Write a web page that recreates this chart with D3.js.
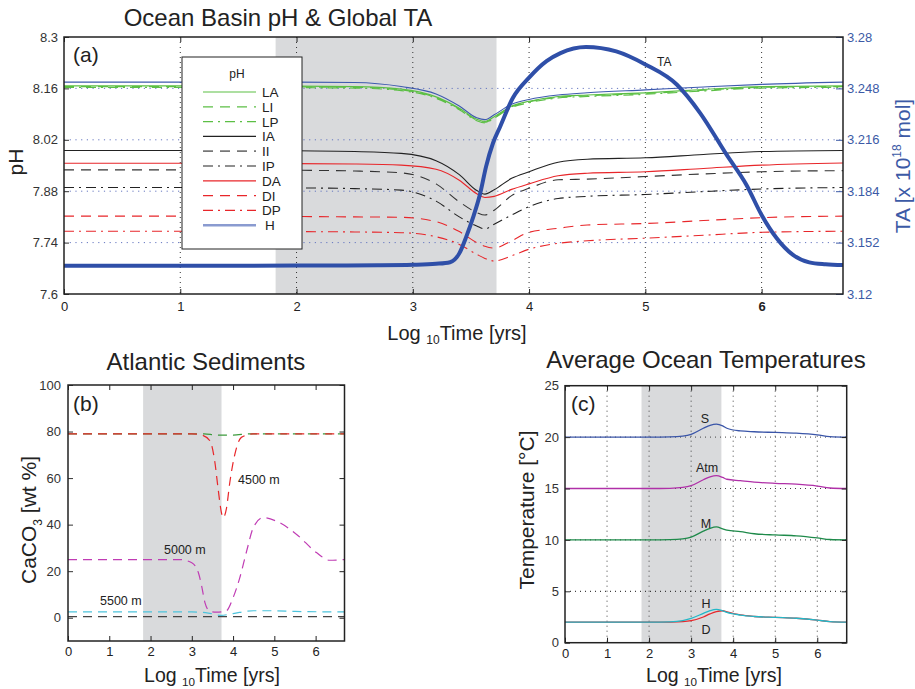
<!DOCTYPE html>
<html><head><meta charset="utf-8">
<script src="https://cdn.jsdelivr.net/npm/d3@7"></script>
<style>
body{margin:0;background:#fff;}
text{font-family:"Liberation Sans",Arial,Helvetica,sans-serif;}
</style></head>
<body><svg id="c" width="915" height="689"></svg>
<script>
// ---------------- DATA ----------------
// Panel (a): pH by basin, x = log10 time
const phX   = [0, 1, 2, 2.5, 2.9, 3.2, 3.4, 3.55, 3.62, 3.7, 3.85, 4.0, 4.25, 4.5, 5.0, 5.5, 6.0, 6.7];
const phLA  = [8.167,8.167,8.166,8.165,8.158,8.137,8.106,8.076,8.070,8.083,8.112,8.125,8.138,8.142,8.148,8.157,8.165,8.167];
const phLI  = [8.165,8.165,8.164,8.163,8.156,8.135,8.104,8.074,8.068,8.081,8.110,8.123,8.136,8.140,8.146,8.155,8.163,8.165];
const phLP  = [8.163,8.163,8.162,8.161,8.154,8.133,8.102,8.072,8.066,8.079,8.108,8.121,8.134,8.138,8.144,8.153,8.161,8.163];
const phIA  = [7.991,7.991,7.990,7.988,7.983,7.963,7.925,7.882,7.872,7.884,7.915,7.933,7.959,7.967,7.971,7.980,7.988,7.991];
const phII  = [7.938,7.938,7.937,7.935,7.930,7.900,7.851,7.822,7.815,7.828,7.868,7.888,7.911,7.913,7.920,7.927,7.933,7.936];
const phIP  = [7.890,7.890,7.889,7.887,7.883,7.853,7.810,7.785,7.777,7.790,7.815,7.838,7.860,7.866,7.871,7.879,7.886,7.890];
const phDA  = [7.956,7.956,7.955,7.954,7.951,7.940,7.910,7.873,7.863,7.866,7.885,7.900,7.922,7.929,7.933,7.942,7.951,7.957];
const phDI  = [7.812,7.812,7.811,7.810,7.809,7.797,7.770,7.740,7.730,7.725,7.745,7.768,7.779,7.788,7.792,7.800,7.808,7.812];
const phDP  = [7.771,7.771,7.770,7.769,7.767,7.756,7.735,7.708,7.697,7.690,7.704,7.722,7.738,7.745,7.752,7.760,7.768,7.771];
const phH   = [8.177,8.177,8.177,8.176,8.165,8.145,8.112,8.080,8.075,8.088,8.117,8.130,8.142,8.148,8.156,8.164,8.171,8.177];
// Global TA [x 1e18 mol]
const taX = [0,1,2,2.7,3.0,3.2,3.32,3.40,3.46,3.52,3.58,3.63,3.69,3.75,3.86,4.0,4.15,4.27,4.49,4.75,5.0,5.27,5.47,5.70,5.87,6.0,6.13,6.27,6.41,6.55,6.7];
const taV = [3.1376,3.1376,3.1377,3.1379,3.1382,3.1388,3.1398,3.1453,3.1557,3.168,3.1827,3.1993,3.214,3.224,3.242,3.2547,3.265,3.270,3.2738,3.271,3.2629,3.2504,3.2328,3.2066,3.1879,3.1692,3.1547,3.1443,3.1397,3.1385,3.138];
const legendNames = ["LA","LI","LP","IA","II","IP","DA","DI","DP","H"];
const phTicks  = [7.6,7.74,7.88,8.02,8.16,8.3];
const phTickLabels = ["7.6","7.74","7.88","8.02","8.16","8.3"];
const taTicks  = [3.12,3.152,3.184,3.216,3.248,3.28];
const taTickLabels = ["3.12","3.152","3.184","3.216","3.248","3.28"];
const xTicks = [0,1,2,3,4,5,6];
const shade = [1.82, 3.72];

// Panel (b): Atlantic sediments CaCO3 wt%
const sedGreenX = [0,3.3,3.6,4.0,4.4,6.7];
const sedGreenV = [79,79,78.5,78.5,79,79];
const sed4500X = [0,3.0,3.24,3.44,3.56,3.64,3.72,3.76,3.84,3.92,4.04,4.2,4.48,6.7];
const sed4500V = [79,79,78.5,76,66.7,55,45,43,47,58,70,77.5,79,79];
const sed5000X = [0,2.71,3.0,3.16,3.24,3.32,3.44,3.6,3.72,3.84,4.0,4.16,4.33,4.49,4.73,5.05,5.54,6.02,6.34,6.7];
const sed5000V = [25,25,23.6,19.3,13.5,6.4,2.7,2.4,2.5,3,8.6,17,28.7,38.7,43,41.5,35.8,28,24.7,25];
const sed5500X = [0,3.0,3.4,3.7,4.0,4.5,5.0,5.5,6.7];
const sed5500V = [2.5,2.5,2,1,1.8,3,3,2.7,2.5];
const sedBlackX = [0,6.7];
const sedBlackV = [0.5,0.5];
const sedTicks = [0,20,40,60,80,100];

// Panel (c): average ocean temperatures
const tX  = [0,1,2,2.5,2.8,3.0,3.29,3.45,3.6,3.75,3.85,4.17,4.5,5.0,5.5,6.0,6.3,6.7];
const tS  = [20,20,20,20.02,20.1,20.27,20.86,21.15,21.27,21.1,20.86,20.6,20.52,20.45,20.38,20.22,20.05,20.0];
const tAtm= [15,15,15,15.02,15.1,15.27,15.85,16.13,16.25,16.08,15.9,15.76,15.62,15.5,15.42,15.24,15.05,15.0];
const tM  = [10,10,10,10.02,10.1,10.27,10.85,11.13,11.26,11.08,10.95,10.8,10.6,10.48,10.4,10.2,10.04,10.0];
const tH  = [2,2,2,2.03,2.15,2.37,2.85,3.12,3.25,3.1,2.95,2.69,2.55,2.46,2.38,2.2,2.05,2.0];
const tD  = [2,2,2,2.01,2.05,2.14,2.5,2.8,3.02,3.11,3.0,2.7,2.55,2.46,2.38,2.2,2.05,2.0];
const tempTicks = [0,5,10,15,20,25];

// ---------------- DRAW ----------------
const svg = d3.select("#c");
const FONT = 13;
const zip = (xs, vs) => xs.map((x,i)=>[x, vs[i]]);

function frame(g, x0, y0, x1, y1){
  g.append("rect").attr("x",x0).attr("y",y0).attr("width",x1-x0).attr("height",y1-y0)
   .attr("fill","none").attr("stroke","#222").attr("stroke-width",1.5);
}
function xLabel(cx, y, size){
  const t = svg.append("text").attr("x",cx).attr("y",y).attr("text-anchor","middle")
    .attr("font-size",size).attr("fill","#222");
  t.append("tspan").text("Log ");
  t.append("tspan").attr("font-size",size*0.6).attr("dy",4).text("10");
  t.append("tspan").attr("dy",-4).text("Time [yrs]");
}
function styleAxis(g, color){
  g.select(".domain").remove();
  g.selectAll("line").attr("stroke",color);
  g.selectAll("text").attr("fill",color).attr("font-size",FONT)
   .attr("font-family","Liberation Sans, Arial, sans-serif");
}

// ======== Panel (a) ========
const ax = d3.scaleLinear().domain([0,6.7]).range([64,843]);
const ay = d3.scaleLinear().domain([7.6,8.3]).range([294,37]);
const ayR = d3.scaleLinear().domain([3.12,3.28]).range([294,37]);
const gA = svg.append("g");
gA.append("rect").attr("x",ax(shade[0])).attr("y",37).attr("width",ax(shade[1])-ax(shade[0])).attr("height",257).attr("fill","#d9dadc");
// grid
gA.selectAll(".vg").data(xTicks.slice(1)).enter().append("line")
  .attr("x1",d=>ax(d)).attr("x2",d=>ax(d)).attr("y1",37).attr("y2",294)
  .attr("stroke","#333").attr("stroke-width",1).attr("stroke-dasharray","1,4");
gA.selectAll(".hg").data(taTicks.slice(1,-1)).enter().append("line")
  .attr("x1",64).attr("x2",843).attr("y1",d=>ayR(d)).attr("y2",d=>ayR(d))
  .attr("stroke","#6677c0").attr("stroke-width",1).attr("stroke-dasharray","1.2,4.5");

const phStyles = {
  LA:{c:"#5cbf45",d:null,w:1.2}, LI:{c:"#5cbf45",d:"10,7",w:1.2}, LP:{c:"#5cbf45",d:"10,5,2,5",w:1.2},
  IA:{c:"#222",d:null,w:1.1}, II:{c:"#333",d:"10,7",w:1.1}, IP:{c:"#222",d:"10,5,2,5",w:1.1},
  DA:{c:"#e8262a",d:null,w:1.1}, DI:{c:"#e8262a",d:"10,7",w:1.1}, DP:{c:"#e8262a",d:"10,5,2,5",w:1.1},
  H:{c:"#3e5aae",d:null,w:1.1}
};
const phSeries = {LA:phLA,LI:phLI,LP:phLP,IA:phIA,II:phII,IP:phIP,DA:phDA,DI:phDI,DP:phDP,H:phH};
const lineA = d3.line().x(d=>ax(d[0])).y(d=>ay(d[1])).curve(d3.curveMonotoneX);
["IP","II","DP","DI","IA","DA","LP","LI","LA","H"].forEach(k=>{
  const s = phStyles[k];
  gA.append("path").attr("d",lineA(zip(phX,phSeries[k]))).attr("fill","none")
    .attr("stroke",s.c).attr("stroke-width",s.w).attr("stroke-dasharray",s.d);
});
const lineTA = d3.line().x(d=>ax(d[0])).y(d=>ayR(d[1])).curve(d3.curveMonotoneX);
gA.append("path").attr("d",lineTA(zip(taX,taV))).attr("fill","none")
  .attr("stroke","#2f4fa8").attr("stroke-width",4);
gA.append("text").attr("x",ax(5.1)).attr("y",ayR(3.262)).attr("font-size",12).attr("fill","#222").text("TA");

// legend
const lg = gA.append("g");
lg.append("rect").attr("x",182).attr("y",57).attr("width",120).attr("height",192)
  .attr("fill","#fff").attr("stroke","#222").attr("stroke-width",1);
lg.append("text").attr("x",237).attr("y",78).attr("text-anchor","middle").attr("font-size",12).attr("fill","#222").text("pH");
legendNames.forEach((k,i)=>{
  const y = 92 + i*14.8;
  const s = phStyles[k];
  lg.append("line").attr("x1",203).attr("x2",256).attr("y1",y).attr("y2",y)
    .attr("stroke", k==="H" ? "#8a9bd0" : (k==="II" ? "#777" : s.c))
    .attr("stroke-width", k==="H"?2.5:(k==="II"?1.8:1.2)).attr("stroke-dasharray",s.d);
  lg.append("text").attr("x", k==="H"?265:262).attr("y",y+5).attr("font-size",13.5).attr("fill","#222").text(k);
});

// axes (a)
const aB = gA.append("g").attr("transform","translate(0,294)")
  .call(d3.axisBottom(ax).tickValues(xTicks).tickFormat(d3.format("d")).tickSize(-5).tickPadding(8));
styleAxis(aB,"#222");
aB.selectAll("text").filter(d=>d===6).attr("font-weight","bold");
const aT = gA.append("g").attr("transform","translate(0,37)")
  .call(d3.axisTop(ax).tickValues(xTicks).tickFormat("").tickSize(-5));
styleAxis(aT,"#222");
const aL = gA.append("g").attr("transform","translate(64,0)")
  .call(d3.axisLeft(ay).tickValues(phTicks).tickFormat((d,i)=>phTickLabels[i]).tickSize(-5).tickPadding(6));
styleAxis(aL,"#333");
const aR = gA.append("g").attr("transform","translate(843,0)")
  .call(d3.axisRight(ayR).tickValues(taTicks).tickFormat((d,i)=>taTickLabels[i]).tickSize(-7).tickPadding(4));
styleAxis(aR,"#3c5aa6");
frame(gA,64,37,843,294);
gA.append("text").attr("x",73).attr("y",62).attr("font-size",21).attr("fill","#222").text("(a)");

svg.append("text").attr("x",278).attr("y",26).attr("text-anchor","middle").attr("font-size",24).attr("fill","#222").text("Ocean Basin pH & Global TA");
svg.append("text").attr("transform","translate(23,162) rotate(-90)").attr("text-anchor","middle").attr("font-size",21).attr("fill","#222").text("pH");
{
  const t = svg.append("text").attr("transform","translate(910,166) rotate(-90)").attr("text-anchor","middle")
    .attr("font-size",21).attr("fill","#3c5aa6");
  t.append("tspan").text("TA  [x 10");
  t.append("tspan").attr("font-size",12).attr("dy",-9).text("18");
  t.append("tspan").attr("dy",9).text(" mol]");
}
xLabel(457, 340, 20);

// ======== Panel (b) ========
const bx = d3.scaleLinear().domain([0,6.7]).range([68,344.5]);
const by = d3.scaleLinear().domain([-10,100]).range([641,385]);
const gB = svg.append("g");
gB.append("rect").attr("x",bx(shade[0])).attr("y",385).attr("width",bx(shade[1])-bx(shade[0])).attr("height",256).attr("fill","#d9dadc");
const lineB = d3.line().x(d=>bx(d[0])).y(d=>by(d[1])).curve(d3.curveMonotoneX);
[[sedBlackX,sedBlackV,"#444"],[sed5500X,sed5500V,"#4cc3dc"],[sed5000X,sed5000V,"#c03cb4"],
 [sedGreenX,sedGreenV,"#3c9a3c"],[sed4500X,sed4500V,"#e8262a"]].forEach(([xs,vs,c])=>{
  gB.append("path").attr("d",lineB(zip(xs,vs))).attr("fill","none").attr("stroke",c)
    .attr("stroke-width",1.2).attr("stroke-dasharray","9,6");
});
const bB = gB.append("g").attr("transform","translate(0,641)")
  .call(d3.axisBottom(bx).tickValues(xTicks).tickFormat(d3.format("d")).tickSize(-5).tickPadding(6));
styleAxis(bB,"#222");
const bT = gB.append("g").attr("transform","translate(0,385)")
  .call(d3.axisTop(bx).tickValues(xTicks).tickFormat("").tickSize(-5));
styleAxis(bT,"#222");
const bL = gB.append("g").attr("transform","translate(68,0)")
  .call(d3.axisLeft(by).tickValues(sedTicks).tickFormat(d3.format("d")).tickSize(-5).tickPadding(7));
styleAxis(bL,"#333");
const bR = gB.append("g").attr("transform","translate(344.5,0)")
  .call(d3.axisRight(by).tickValues(sedTicks).tickFormat("").tickSize(-5));
styleAxis(bR,"#222");
frame(gB,68,385,344.5,641);
gB.append("text").attr("x",73).attr("y",411).attr("font-size",21).attr("fill","#222").text("(b)");
gB.append("text").attr("x",238).attr("y",484).attr("font-size",12.5).attr("fill","#222").text("4500 m");
gB.append("text").attr("x",164).attr("y",554).attr("font-size",12.5).attr("fill","#222").text("5000 m");
gB.append("text").attr("x",100).attr("y",605).attr("font-size",12.5).attr("fill","#222").text("5500 m");
svg.append("text").attr("x",206).attr("y",370).attr("text-anchor","middle").attr("font-size",24).attr("fill","#222").text("Atlantic Sediments");
{
  const t = svg.append("text").attr("transform","translate(36,520) rotate(-90)").attr("text-anchor","middle")
    .attr("font-size",21).attr("fill","#222");
  t.append("tspan").text("CaCO");
  t.append("tspan").attr("font-size",12).attr("dy",6).text("3");
  t.append("tspan").attr("dy",-6).text("  [wt %]");
}
xLabel(212, 682, 19.5);

// ======== Panel (c) ========
const cx = d3.scaleLinear().domain([0,6.7]).range([565,846.7]);
const cy = d3.scaleLinear().domain([0,25]).range([642.7,385.7]);
const gC = svg.append("g");
gC.append("rect").attr("x",cx(shade[0])).attr("y",385.7).attr("width",cx(shade[1])-cx(shade[0])).attr("height",257).attr("fill","#d9dadc");
gC.selectAll(".vg").data(xTicks.slice(1)).enter().append("line")
  .attr("x1",d=>cx(d)).attr("x2",d=>cx(d)).attr("y1",385.7).attr("y2",642.7)
  .attr("stroke","#444").attr("stroke-width",1).attr("stroke-dasharray","1,4");
gC.selectAll(".hg").data(tempTicks.slice(1,-1)).enter().append("line")
  .attr("x1",565).attr("x2",846.7).attr("y1",d=>cy(d)).attr("y2",d=>cy(d))
  .attr("stroke",d=>d===5?"#111":"#444").attr("stroke-width",1).attr("stroke-dasharray","1,4");
const lineC = d3.line().x(d=>cx(d[0])).y(d=>cy(d[1])).curve(d3.curveMonotoneX);
[[tS,"#3a55a8"],[tAtm,"#b030a8"],[tM,"#1e8a4a"],[tD,"#e8262a"],[tH,"#22b8c8"]].forEach(([vs,c])=>{
  gC.append("path").attr("d",lineC(zip(tX,vs))).attr("fill","none").attr("stroke",c).attr("stroke-width",1.3);
});
const cB = gC.append("g").attr("transform","translate(0,642.7)")
  .call(d3.axisBottom(cx).tickValues(xTicks).tickFormat(d3.format("d")).tickSize(-5).tickPadding(6));
styleAxis(cB,"#222");
const cT = gC.append("g").attr("transform","translate(0,385.7)")
  .call(d3.axisTop(cx).tickValues(xTicks).tickFormat("").tickSize(-5));
styleAxis(cT,"#222");
const cL = gC.append("g").attr("transform","translate(565,0)")
  .call(d3.axisLeft(cy).tickValues(tempTicks).tickFormat(d3.format("d")).tickSize(-5).tickPadding(6));
styleAxis(cL,"#333");
const cR = gC.append("g").attr("transform","translate(846.7,0)")
  .call(d3.axisRight(cy).tickValues(tempTicks).tickFormat("").tickSize(-5));
styleAxis(cR,"#222");
frame(gC,565,385.7,846.7,642.7);
gC.append("text").attr("x",571).attr("y",411).attr("font-size",21).attr("fill","#222").text("(c)");
[["S",705,423],["Atm",707,472],["M",706,528],["H",706,608],["D",706,634]].forEach(([t,x,y])=>{
  gC.append("text").attr("x",x).attr("y",y).attr("text-anchor","middle").attr("font-size",12.5).attr("fill","#222").text(t);
});
svg.append("text").attr("x",706).attr("y",368).attr("text-anchor","middle").attr("font-size",24).attr("fill","#222").text("Average Ocean Temperatures");
svg.append("text").attr("transform","translate(534,510) rotate(-90)").attr("text-anchor","middle")
  .attr("font-size",21).attr("fill","#222").text("Temperature  [°C]");
xLabel(714, 682, 19.5);
</script></body></html>
